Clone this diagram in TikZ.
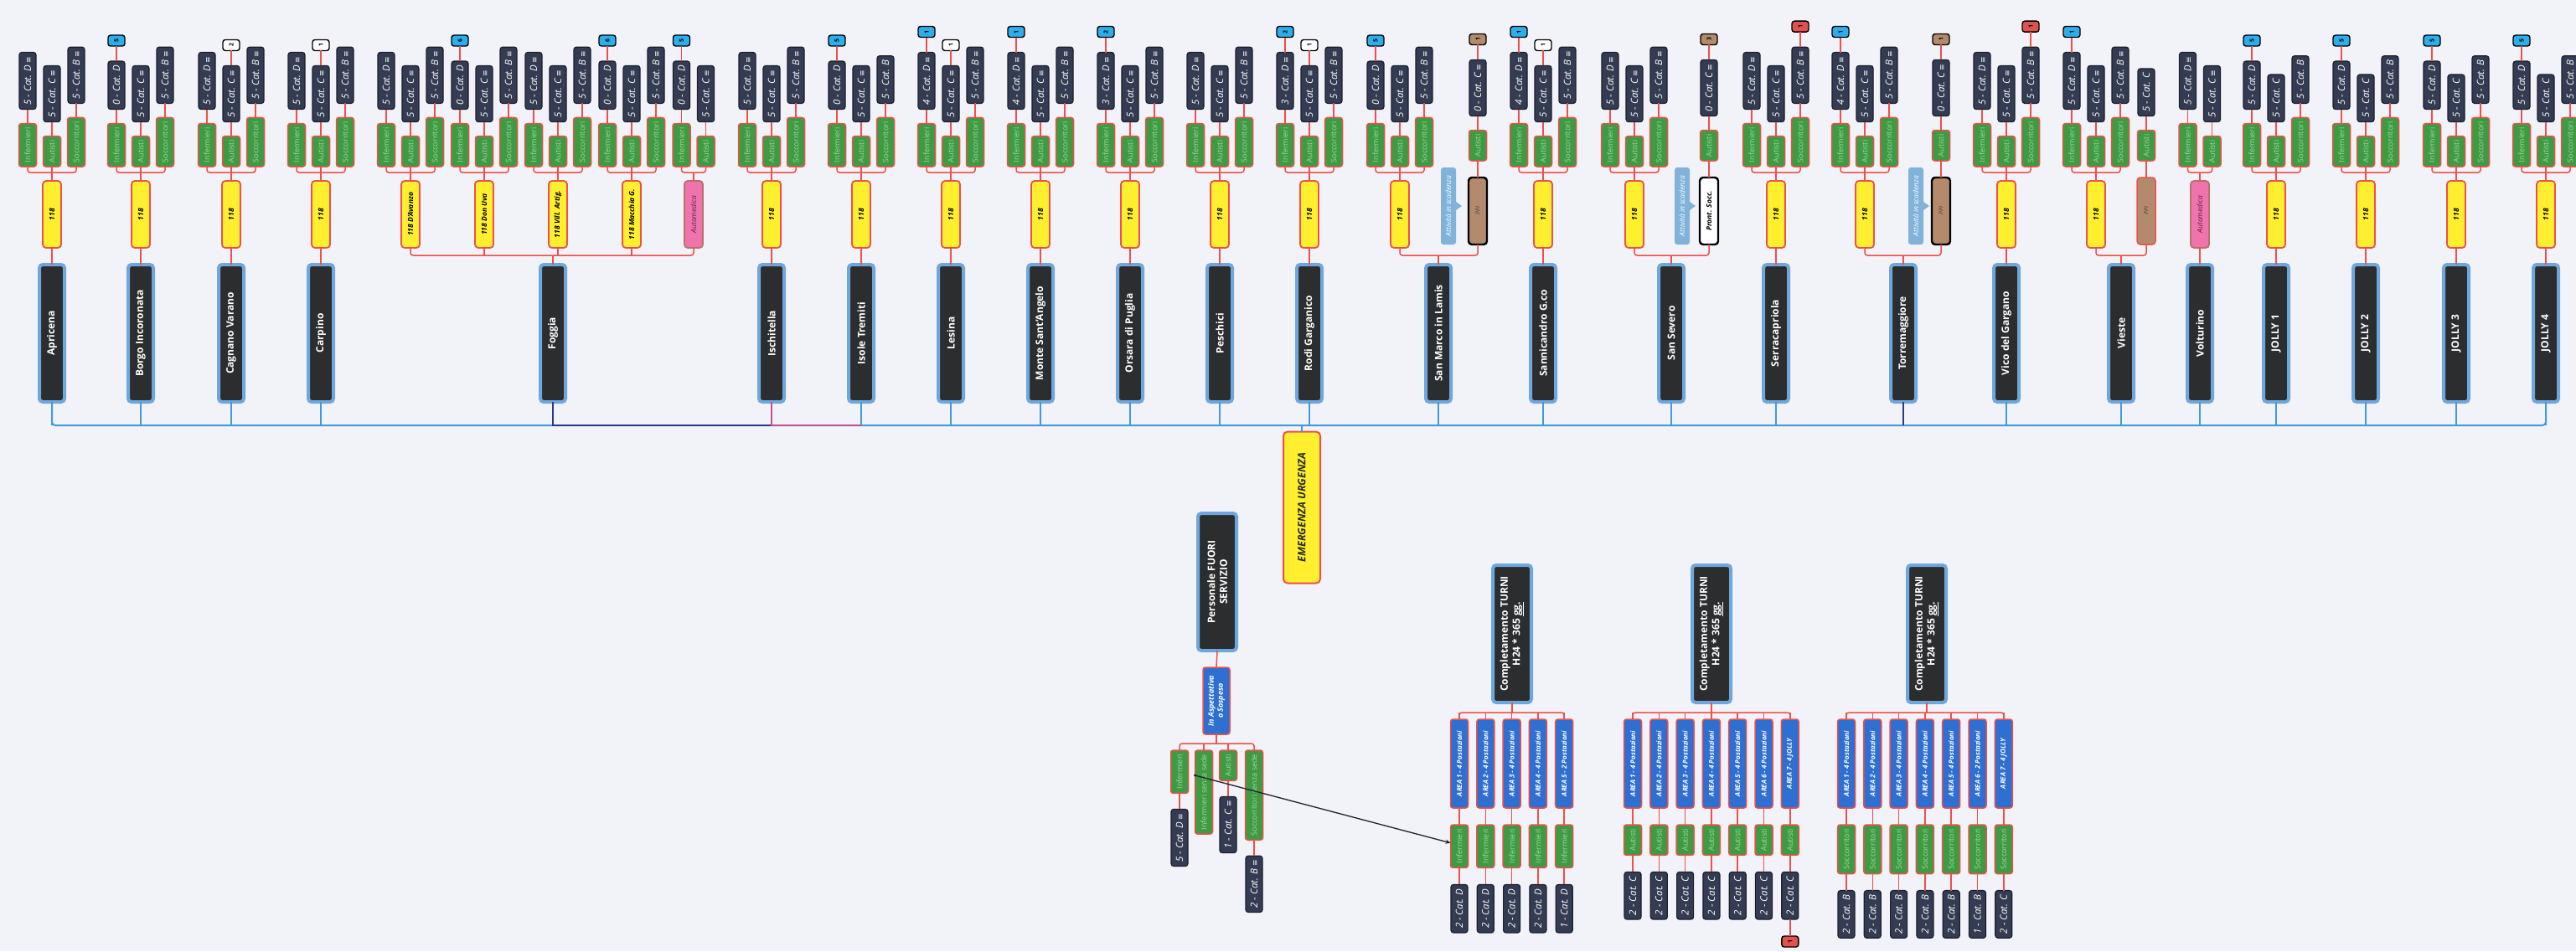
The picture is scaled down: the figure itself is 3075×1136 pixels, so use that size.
\documentclass[tikz,border=0pt]{standalone}
\usepackage{fontspec}
\setmainfont{Open Sans}
\newfontfamily\symf{DejaVu Sans}
\usetikzlibrary{calc,arrows.meta}

\definecolor{bgc}{HTML}{F2F3F8}
\definecolor{cityfill}{HTML}{2B2D2E}
\definecolor{cityline}{HTML}{6FA7DD}
\definecolor{yelfill}{HTML}{FFEF2E}
\definecolor{lred}{HTML}{EE4F4A}
\definecolor{grnfill}{HTML}{3F9B43}
\definecolor{grntext}{HTML}{A3D6A0}
\definecolor{catfill}{HTML}{333C52}
\definecolor{catline}{HTML}{1C202B}
\definecolor{bblue}{HTML}{2DAEEA}
\definecolor{bbrown}{HTML}{B38A6B}
\definecolor{bredc}{HTML}{E0524E}
\definecolor{busblue}{HTML}{3D9BE0}
\definecolor{busnavy}{HTML}{2C3A8C}
\definecolor{buspink}{HTML}{C2508A}
\definecolor{pinkfill}{HTML}{EF74AB}
\definecolor{pinkline}{HTML}{B8706A}
\definecolor{pinktext}{HTML}{5A2250}
\definecolor{areafill}{HTML}{2F6FD2}
\definecolor{callfill}{HTML}{80B2DA}
\definecolor{relline}{HTML}{1E2230}

\newcommand\cityf{\fontsize{12}{14.5}\selectfont\bfseries}
\newcommand\yelf{\fontsize{8.5}{10}\selectfont\bfseries\itshape}
\newcommand\grnf{\fontsize{9}{10}\selectfont}
\newcommand\catf{\fontsize{11.5}{12.5}\selectfont\itshape}
\newcommand\bdgf{\fontsize{7}{8}\selectfont\bfseries}
\newcommand\areaf{\fontsize{8}{9.5}\selectfont\bfseries\itshape}
\newcommand\callf{\fontsize{8.5}{10}\selectfont\itshape}
\newcommand\emerf{\fontsize{12.5}{14}\selectfont\bfseries\itshape}
\newcommand\ic{\ {\symf\upshape\fontsize{9}{9}\selectfont ≡}}

\tikzset{
  every node/.style={inner sep=0pt, outer sep=0pt},
  rl/.style={draw=lred, line width=1.5},
  bl/.style={draw=busblue, line width=2},
  citybox/.style={rotate=90, fill=cityfill, draw=cityline, line width=4, rounded corners=4,
    minimum width=164, minimum height=30, text=white, font=\cityf, align=center},
  yelbox/.style={rotate=90, fill=yelfill, draw=lred, line width=1.8, rounded corners=4,
    minimum width=80, minimum height=22, inner xsep=2, font=\yelf, text=black},
  pinkbox/.style={yelbox, fill=pinkfill, draw=pinkline, text=pinktext, font=\yelf\mdseries},
  ppibox/.style={rotate=90, fill=bbrown, draw=black, line width=2.4, rounded corners=4,
    minimum width=80, minimum height=22, font=\fontsize{7}{8}\selectfont\itshape, text=black!75},
  ppired/.style={ppibox, draw=lred, line width=1.5},
  prontbox/.style={ppibox, fill=white, font=\yelf, text=black},
  grnbox/.style={rotate=90, fill=grnfill, draw=lred, line width=1.5, rounded corners=3,
    minimum height=21, inner xsep=5, text=grntext, font=\grnf},
  catbox/.style={rotate=90, fill=catfill, draw=catline, line width=1.2, rounded corners=3,
    minimum height=20, inner xsep=5, text=white, font=\catf},
  badge/.style={rotate=90, draw=black, line width=1.4, rounded corners=3,
    minimum width=13, minimum height=20, font=\bdgf},
  areabox/.style={rotate=90, fill=areafill, draw=lred, line width=1.5, rounded corners=3,
    minimum width=106, minimum height=21, text=white, font=\areaf, align=center},
  callbox/.style={rotate=90, fill=callfill, rounded corners=3, minimum width=92,
    minimum height=18, text=white, font=\callf},
  emerbox/.style={rotate=90, fill=yelfill, draw=lred, line width=2, rounded corners=5,
    minimum width=181, minimum height=44, font=\emerf, text=black!85},
  rel/.style={draw=relline, line width=1.3, -{Stealth[length=6pt,width=5pt]}},
}

% green + category box (optional arg: bottom y of green box)
\newcommand\branch[5][199]{%
  \node[grnbox,anchor=west] (#2g) at (#3,#1) {#4};
  \node[catbox,anchor=west] (#2c) at ($(#2g.east)+(0,-17)$) {#5};
  \draw[rl] (#2g.east) -- (#2c.west);}
% badge above a category box
\newcommand\bdg[3]{%
  \node[badge,#2,anchor=west] (#1b) at ($(#1c.east)+(0,-18)$) {#3};
  \draw[rl] (#1c.east) -- (#1b.west);}
% three staff branches
\newcommand\trio[6]{%
  \branch{#1i}{#2-29}{Infermieri}{#3}
  \branch{#1a}{#2}{Autisti}{#4}
  \branch{#1s}{#2+29}{Soccorritori}{#5}
  \draw[rl,rounded corners=3] (#1ig.west) -- (#1ig.west |- 0,206) -- (#1sg.west |- 0,206) -- (#1sg.west);
  \draw[rl] (#1ag.west) -- (#6.east);}
% two staff branches
\newcommand\duo[5]{%
  \branch{#1i}{#2-14.5}{Infermieri}{#3}
  \branch{#1a}{#2+14.5}{Autisti}{#4}
  \draw[rl,rounded corners=3] (#1ig.west) -- (#1ig.west |- 0,206) -- (#1ag.west |- 0,206) -- (#1ag.west);
  \draw[rl] (#5.east) -- (#5.east |- 0,206);}
\newcommand\cityn[3]{%
  \node[citybox] (#1) at (#2,398) {#3};
  \draw[bl] (#1.west) -- (#1.west |- 0,508);}
\newcommand\stdcol[6]{%
  \cityn{#1}{#2}{#3}
  \node[yelbox] (#1y) at (#2,256) {118};
  \draw[rl] (#1y.west) -- (#1.east);
  \trio{#1}{#2}{#4}{#5}{#6}{#1y}}
\newcommand\joinsvc[3]{%
  \draw[rl,rounded corners=3] (#2.west) -- (#2.west |- 0,305) -- (#3.west |- 0,305) -- (#3.west);
  \draw[rl] (#1.east) -- (#1.east |- 0,305);}
\newcommand\callout[3]{%
  \node[callbox] (#1) at (#2,#3) {Attività in scadenza};
  \fill[callfill] ([yshift=5]#1.south) -- ($(#1.south)+(7,0)$) -- ([yshift=-5]#1.south) -- cycle;}
\newcommand\compblock[6]{%
  \node[citybox,minimum height=46] (#1) at (#2,757) {Completamento TURNI\\H24 * 365 \underline{gg.}};
  \foreach \i/\at/\ct in {#5} {
    \node[areabox,anchor=east] (#1a\i) at ({#3+31.3*(\i-1)},859) {\at};
    \node[grnbox,anchor=east] (#1g\i) at ($(#1a\i.west)+(0,20)$) {#4};
    \node[catbox,anchor=east] (#1c\i) at ($(#1g\i.west)+(0,20)$) {\ct};
    \draw[rl] (#1a\i.west) -- (#1g\i.east) (#1g\i.west) -- (#1c\i.east)
      (#1a\i.east) -- (#1a\i.east |- 0,851);
  }
  \draw[rl,rounded corners=3] (#1a1.east) -- (#1a1.east |- 0,851) -- (#1a#6.east |- 0,851) -- (#1a#6.east);
  \draw[rl] (#1.west) -- (#1.west |- 0,851);}

\begin{document}
\begin{tikzpicture}[x=1pt,y=-1pt]
\fill[bgc] (0,0) rectangle (3075,1136);
\useasboundingbox (0,0) rectangle (3075,1136);

% ---------------- top row ----------------
\stdcol{ap}{62}{Apricena}{5 - Cat. D\ic}{5 - Cat. C\ic}{5 - Cat. B\ic}
\stdcol{bo}{168}{Borgo Incoronata}{0 - Cat. D}{5 - Cat. C\ic}{5 - Cat. B\ic}
\bdg{boi}{fill=bblue}{5}
\stdcol{cg}{276}{Cagnano Varano}{5 - Cat. D\ic}{5 - Cat. C\ic}{5 - Cat. B\ic}
\bdg{cga}{fill=white}{2}
\stdcol{cp}{383}{Carpino}{5 - Cat. D\ic}{5 - Cat. C\ic}{5 - Cat. B\ic}
\bdg{cpa}{fill=white}{1}

% Foggia
\cityn{fg}{660}{Foggia}
\node[yelbox] (fa) at (490,256) {118 D'Avanzo};
\trio{fa}{490}{5 - Cat. D\ic}{5 - Cat. C\ic}{5 - Cat. B\ic}{fa}
\node[yelbox] (fb) at (578,256) {118 Don Uva};
\trio{fb}{578}{0 - Cat. D}{5 - Cat. C\ic}{5 - Cat. B\ic}{fb}
\bdg{fbi}{fill=bblue}{6}
\node[yelbox] (fc) at (666,256) {118 Vill. Artig.};
\trio{fc}{666}{5 - Cat. D\ic}{5 - Cat. C\ic}{5 - Cat. B\ic}{fc}
\node[yelbox] (fd) at (754,256) {118 Macchia G.};
\trio{fd}{754}{0 - Cat. D}{5 - Cat. C\ic}{5 - Cat. B\ic}{fd}
\bdg{fdi}{fill=bblue}{6}
\node[pinkbox] (fe) at (828,256) {Automedica};
\duo{fe}{828}{0 - Cat. D}{5 - Cat. C\ic}{fe}
\bdg{fei}{fill=bblue}{5}
\joinsvc{fg}{fa}{fe}
\draw[rl] (fb.west) -- (fb.west |- 0,305) (fc.west) -- (fc.west |- 0,305) (fd.west) -- (fd.west |- 0,305);

\stdcol{is}{921}{Ischitella}{5 - Cat. D\ic}{5 - Cat. C\ic}{5 - Cat. B\ic}
\stdcol{it}{1028}{Isole Tremiti}{0 - Cat. D}{5 - Cat. C\ic}{5 - Cat. B}
\bdg{iti}{fill=bblue}{5}
\stdcol{le}{1135}{Lesina}{4 - Cat. D\ic}{5 - Cat. C\ic}{5 - Cat. B\ic}
\bdg{lei}{fill=bblue}{1}
\bdg{lea}{fill=white}{1}
\stdcol{ms}{1242}{Monte Sant'Angelo}{4 - Cat. D\ic}{5 - Cat. C\ic}{5 - Cat. B\ic}
\bdg{msi}{fill=bblue}{1}
\stdcol{op}{1349}{Orsara di Puglia}{3 - Cat. D\ic}{5 - Cat. C\ic}{5 - Cat. B\ic}
\bdg{opi}{fill=bblue}{2}
\stdcol{pe}{1456}{Peschici}{5 - Cat. D\ic}{5 - Cat. C\ic}{5 - Cat. B\ic}
\stdcol{ro}{1563}{Rodi Garganico}{3 - Cat. D\ic}{5 - Cat. C\ic}{5 - Cat. B\ic}
\bdg{roi}{fill=bblue}{2}
\bdg{roa}{fill=white}{1}

% San Marco in Lamis
\cityn{sm}{1717}{San Marco in Lamis}
\node[yelbox] (smy) at (1671,256) {118};
\trio{sm}{1671}{0 - Cat. D}{5 - Cat. C\ic}{5 - Cat. B\ic}{smy}
\bdg{smi}{fill=bblue}{5}
\node[ppibox] (smp) at (1764,252) {PPI};
\branch[192]{smq}{1764}{Autisti}{0 - Cat. C\ic}
\draw[rl] (smp.east) -- (smqg.west);
\bdg{smq}{fill=bbrown}{1}
\callout{smco}{1729}{246}
\joinsvc{sm}{smy}{smp}

\stdcol{sn}{1842}{Sannicandro G.co}{4 - Cat. D\ic}{5 - Cat. C\ic}{5 - Cat. B\ic}
\bdg{sni}{fill=bblue}{1}
\bdg{sna}{fill=white}{1}

% San Severo
\cityn{ss}{1995}{San Severo}
\node[yelbox] (ssy) at (1951,256) {118};
\trio{ss}{1951}{5 - Cat. D\ic}{5 - Cat. C\ic}{5 - Cat. B\ic}{ssy}
\node[prontbox] (ssp) at (2040,252) {Pront. Socc.};
\branch[192]{ssq}{2040}{Autisti}{0 - Cat. C\ic}
\draw[rl] (ssp.east) -- (ssqg.west);
\bdg{ssq}{fill=bbrown}{3}
\callout{ssco}{2008}{246}
\joinsvc{ss}{ssy}{ssp}

\stdcol{sc}{2120}{Serracapriola}{5 - Cat. D\ic}{5 - Cat. C\ic}{5 - Cat. B\ic}
\bdg{scs}{fill=bredc}{1}

% Torremaggiore
\cityn{tm}{2272}{Torremaggiore}
\node[yelbox] (tmy) at (2226,256) {118};
\trio{tm}{2226}{4 - Cat. D\ic}{5 - Cat. C\ic}{5 - Cat. B\ic}{tmy}
\bdg{tmi}{fill=bblue}{1}
\node[ppibox] (tmp) at (2317,252) {PPI};
\branch[192]{tmq}{2317}{Autisti}{0 - Cat. C\ic}
\draw[rl] (tmp.east) -- (tmqg.west);
\bdg{tmq}{fill=bbrown}{1}
\callout{tmco}{2287}{246}
\joinsvc{tm}{tmy}{tmp}

\stdcol{vg}{2395}{Vico del Gargano}{5 - Cat. D\ic}{5 - Cat. C\ic}{5 - Cat. B\ic}
\bdg{vgs}{fill=bredc}{1}

% Vieste
\cityn{vi}{2532}{Vieste}
\node[yelbox] (viy) at (2502,256) {118};
\trio{vi}{2502}{5 - Cat. D\ic}{5 - Cat. C\ic}{5 - Cat. B\ic}{viy}
\bdg{vii}{fill=bblue}{1}
\node[ppired] (vip) at (2562,252) {PPI};
\branch[192]{viq}{2562}{Autisti}{5 - Cat. C}
\draw[rl] (vip.east) -- (viqg.west);
\joinsvc{vi}{viy}{vip}

% Volturino
\cityn{vo}{2626}{Volturino}
\node[pinkbox] (vop) at (2626,256) {Automedica};
\draw[rl] (vop.west) -- (vo.east);
\duo{vo}{2626}{5 - Cat. D\ic}{5 - Cat. C\ic}{vop}

\stdcol{ja}{2717}{JOLLY 1}{5 - Cat. D}{5 - Cat. C}{5 - Cat. B}
\bdg{jai}{fill=bblue}{5}
\stdcol{jb}{2824}{JOLLY 2}{5 - Cat. D}{5 - Cat. C}{5 - Cat. B}
\bdg{jbi}{fill=bblue}{5}
\stdcol{jc}{2932}{JOLLY 3}{5 - Cat. D}{5 - Cat. C}{5 - Cat. B}
\bdg{jci}{fill=bblue}{5}
\stdcol{jd}{3039}{JOLLY 4}{5 - Cat. D}{5 - Cat. C}{5 - Cat. B}
\bdg{jdi}{fill=bblue}{5}

% bus line
\draw[bl,rounded corners=4] (ap.west) -- (ap.west |- 0,508) -- (jd.west |- 0,508) -- (jd.west);
\draw[draw=busnavy,line width=2] (fg.west) -- (fg.west |- 0,508) -- (is.west |- 0,508);
\draw[draw=buspink,line width=2] (is.west) -- (is.west |- 0,508) -- (it.west |- 0,508);
\draw[draw=busnavy,line width=2] (tm.west) -- (tm.west |- 0,508);

% central topic
\node[emerbox] (em) at (1554,606) {EMERGENZA URGENZA};
\draw[bl] (em.east) -- (em.east |- 0,508);

% ---------------- Personale fuori servizio ----------------
\node[citybox,minimum height=46] (pfs) at (1453,695) {Personale FUORI\\SERVIZIO};
\node[areabox,minimum width=80,minimum height=32,font=\areaf\fontsize{9}{11}\selectfont] (asp) at (1452,837) {In Aspettativa\\o Sospeso};
\draw[rl] (pfs.west) -- (asp.east);
\node[grnbox,anchor=east] (p1g) at (1408,896) {Infermieri};
\node[grnbox,anchor=east] (p2g) at (1437,896) {Infermieri senza sede};
\node[grnbox,anchor=east] (p3g) at (1466,896) {Autisti};
\node[grnbox,anchor=east] (p4g) at (1497,896) {Soccorritori senza sede};
\draw[rl,rounded corners=3] (p1g.east) -- (p1g.east |- 0,888) -- (p4g.east |- 0,888) -- (p4g.east);
\draw[rl] (p2g.east) -- (p2g.east |- 0,888) (p3g.east) -- (p3g.east |- 0,888) (asp.west) -- (asp.west |- 0,888);
\node[catbox,anchor=east] (p1c) at ($(p1g.west)+(0,19)$) {5 - Cat. D\ic};
\node[catbox,anchor=east] (p3c) at ($(p3g.west)+(0,19)$) {1 - Cat. C\ic};
\node[catbox,anchor=east] (p4c) at ($(p4g.west)+(0,19)$) {2 - Cat. B\ic};
\draw[rl] (p1g.west) -- (p1c.east) (p3g.west) -- (p3c.east) (p4g.west) -- (p4c.east);

% ---------------- Completamento turni ----------------
\compblock{A}{1805}{1742}{Infermieri}{%
  1/{AREA 1 - 4 Postazioni}/{2 - Cat. D},
  2/{AREA 2 - 4 Postazioni}/{2 - Cat. D},
  3/{AREA 3 - 4 Postazioni}/{2 - Cat. D},
  4/{AREA 4 - 4 Postazioni}/{2 - Cat. D},
  5/{AREA 5 - 2 Postazioni}/{1 - Cat. D}}{5}
\compblock{B}{2043}{1949}{Autisti}{%
  1/{AREA 1 - 4 Postazioni}/{2 - Cat. C},
  2/{AREA 2 - 4 Postazioni}/{2 - Cat. C},
  3/{AREA 3 - 4 Postazioni}/{2 - Cat. C},
  4/{AREA 4 - 4 Postazioni}/{2 - Cat. C},
  5/{AREA 5 - 4 Postazioni}/{2 - Cat. C},
  6/{AREA 6 - 4 Postazioni}/{2 - Cat. C},
  7/{AREA 7 - 4 JOLLY}/{2 - Cat. C}}{7}
\node[badge,fill=bredc,anchor=east] (Bb7) at ($(Bc7.west)+(0,20)$) {1};
\draw[rl] (Bc7.west) -- (Bb7.east);
\compblock{C}{2300}{2204}{Soccorritori}{%
  1/{AREA 1 - 4 Postazioni}/{2 - Cat. B},
  2/{AREA 2 - 4 Postazioni}/{2 - Cat. B},
  3/{AREA 3 - 4 Postazioni}/{2 - Cat. B},
  4/{AREA 4 - 4 Postazioni}/{2 - Cat. B},
  5/{AREA 5 - 4 Postazioni}/{2 - Cat. B},
  6/{AREA 6 - 2 Postazioni}/{1 - Cat. B},
  7/{AREA 7 - 4 JOLLY}/{2 - Cat. C}}{7}

% relation line
\fill[relline] ([yshift=20]p2g.north) circle (1.6);
\draw[rel] ([yshift=20]p2g.north) -- ([yshift=4]Ag1.north);
\end{tikzpicture}
\end{document}
